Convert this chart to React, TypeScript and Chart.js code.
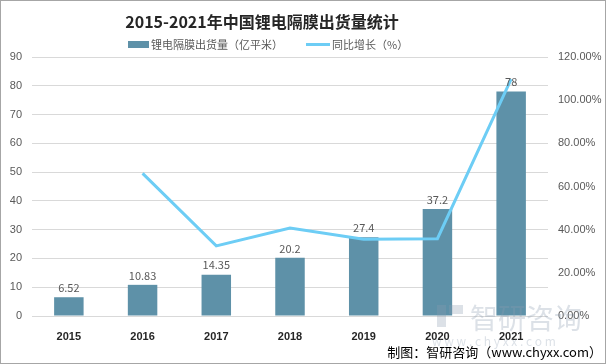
import React, { useEffect, useRef } from "react";
import { Chart, registerables } from "chart.js";

Chart.register(...registerables);

const categories = ["2015", "2016", "2017", "2018", "2019", "2020", "2021"];
const shipments = [6.52, 10.83, 14.35, 20.2, 27.4, 37.2, 78];
const growth = [null, 0.661, 0.325, 0.408, 0.356, 0.358, 1.097];
const leftTicks = [0, 90, 10];
const rightTicks = [0, 1.2, 0.2];

const BAR = "#5e91a8";
const LINE = "#6dcdf5";
const CJK = "'Noto Sans CJK SC', 'Noto Sans', sans-serif";

export default function App() {
  const ref = useRef<HTMLCanvasElement | null>(null);
  useEffect(() => {
    document.body.style.margin = "0";
    const canvas = ref.current!;
    const decor = {
      id: "decor",
      afterDatasetsDraw(chart: any) {
        const ctx = chart.ctx;
        const meta = chart.getDatasetMeta(0);
        ctx.save();
        ctx.font = `11px ${CJK}`;
        ctx.fillStyle = "#595959";
        ctx.textAlign = "center";
        ctx.textBaseline = "bottom";
        meta.data.forEach((el: any, i: number) => {
          ctx.fillText(String(shipments[i]), el.x, el.y - 4);
        });
        ctx.restore();
      },
      afterDraw(chart: any) {
        const ctx = chart.ctx;
        ctx.save();
        // title
        ctx.font = `bold 16px ${CJK}`;
        ctx.fillStyle = "#262626";
        ctx.textAlign = "center";
        ctx.textBaseline = "middle";
        ctx.fillText("2015-2021年中国锂电隔膜出货量统计", 262, 22);
        // legend
        ctx.font = `11px ${CJK}`;
        ctx.textAlign = "left";
        ctx.fillStyle = BAR;
        ctx.fillRect(128, 41, 21, 7);
        ctx.fillStyle = "#595959";
        ctx.fillText("锂电隔膜出货量（亿平米）", 151, 44.5);
        ctx.strokeStyle = LINE;
        ctx.lineWidth = 3;
        ctx.beginPath();
        ctx.moveTo(306, 44.5);
        ctx.lineTo(330, 44.5);
        ctx.stroke();
        ctx.fillText("同比增长（%）", 332, 44.5);
        // watermark
        ctx.globalAlpha = 0.3;
        ctx.fillStyle = "#8a9bb0";
        ctx.font = `28px ${CJK}`;
        ctx.fillText("智研咨询", 470, 318);
        ctx.font = `12px ${CJK}`;
        ctx.fillText("w w w . c h y x x . c o m", 432, 341);
        ctx.fillRect(437, 305, 9, 22);
        ctx.fillRect(449, 305, 14, 9);
        ctx.globalAlpha = 1;
        // source
        ctx.font = `13px ${CJK}`;
        ctx.textAlign = "right";
        ctx.fillStyle = "#000000";
        ctx.fillText("制图：智研咨询（www.chyxx.com）", 602, 352);
        // border
        ctx.strokeStyle = "#a6a6a6";
        ctx.lineWidth = 1;
        ctx.strokeRect(0.5, 0.5, 605, 363);
        ctx.restore();
      },
    };
    const chart = new Chart(canvas, {
      type: "bar",
      data: {
        labels: categories,
        datasets: [
          {
            type: "bar",
            label: "锂电隔膜出货量（亿平米）",
            data: shipments,
            backgroundColor: BAR,
            yAxisID: "y",
            categoryPercentage: 0.8,
            barPercentage: 0.5,
            order: 2,
          },
          {
            type: "line",
            label: "同比增长（%）",
            data: growth as any,
            borderColor: LINE,
            backgroundColor: LINE,
            borderWidth: 3,
            pointRadius: 0,
            tension: 0,
            yAxisID: "y1",
            order: 1,
          },
        ],
      },
      options: {
        animation: false,
        responsive: false,
        layout: { padding: { top: 57, left: 0, right: 0, bottom: 22 } },
        plugins: {
          legend: { display: false },
          title: { display: false },
          tooltip: { enabled: false },
        },
        scales: {
          x: {
            grid: { display: false },
            border: { display: false },
            ticks: {
              color: "#262626",
              font: { family: "Liberation Sans, Arial, sans-serif", size: 11, weight: "bold" },
              padding: 6,
            },
            afterFit: (s: any) => {
              s.height = 26;
            },
          },
          y: {
            position: "left",
            min: leftTicks[0],
            max: leftTicks[1],
            ticks: {
              stepSize: leftTicks[2],
              color: "#595959",
              font: { family: "Liberation Sans, Arial, sans-serif", size: 11 },
              padding: 10,
            },
            grid: { color: "#d9d9d9", drawTicks: false },
            border: { display: false },
            afterFit: (s: any) => {
              s.width = 32;
            },
          },
          y1: {
            position: "right",
            min: rightTicks[0],
            max: rightTicks[1],
            ticks: {
              stepSize: rightTicks[2],
              color: "#595959",
              font: { family: "Liberation Sans, Arial, sans-serif", size: 11 },
              padding: 10,
              callback: (v: any) => (Number(v) * 100).toFixed(2) + "%",
            },
            grid: { display: false, drawTicks: false },
            border: { display: false },
            afterFit: (s: any) => {
              s.width = 58;
            },
          },
        },
      },
      plugins: [decor],
    });
    return () => chart.destroy();
  }, []);
  return (
    <div style={{ width: 606, height: 364 }}>
      <canvas ref={ref} width={606} height={364} style={{ display: "block" }} />
    </div>
  );
}
